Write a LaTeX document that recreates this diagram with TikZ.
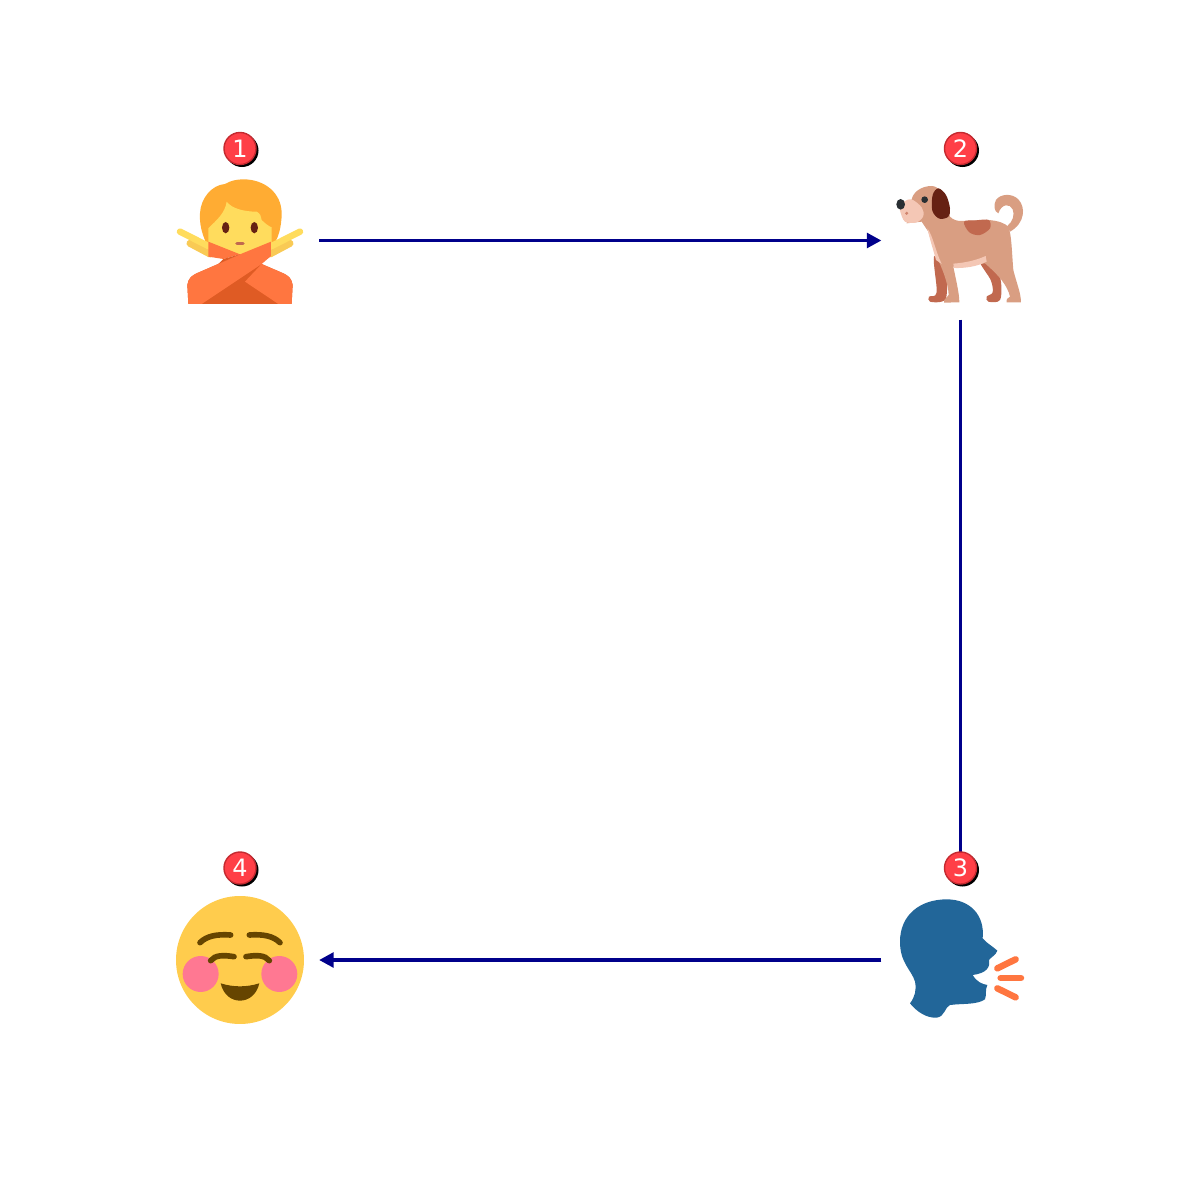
\documentclass[tikz,border=0pt]{standalone}
\usepackage{fontspec}
\usepackage{xcolor}
\usepackage{tikz}
\usetikzlibrary{arrows.meta}
\setmainfont{DejaVu Sans}
\definecolor{clink}{HTML}{00008B}
\definecolor{cbadge}{HTML}{FF3F47}
\definecolor{cbadgeedge}{HTML}{C42A30}
\definecolor{chair}{HTML}{FFAC33}
\definecolor{cskin}{HTML}{FFDC5D}
\definecolor{cskinb}{HTML}{F9CA55}
\definecolor{cshirt}{HTML}{FF7640}
\definecolor{cshirtb}{HTML}{DF5B24}
\definecolor{cbrown}{HTML}{662113}
\definecolor{cbrick}{HTML}{C1694F}
\definecolor{cdog}{HTML}{D99E82}
\definecolor{cpale}{HTML}{F4C7B5}
\definecolor{cdark}{HTML}{292F33}
\definecolor{chead}{HTML}{226699}
\definecolor{cface}{HTML}{FFCC4D}
\definecolor{ceye}{HTML}{664500}
\definecolor{ccheek}{HTML}{FF7892}
\tikzset{
  icon/.style={minimum size=1.28cm,inner sep=0pt,outer sep=0.15cm},
  link/.style={clink,line width=1.1pt,-{Triangle[length=1.45mm,width=1.45mm]}},
  badge/.style={circle,fill=cbadge,draw=cbadgeedge,line width=0.4pt,minimum size=0.32cm,inner sep=0pt,text=white,font=\fontsize{6.8}{7}\selectfont},
  bshadow/.style={circle,fill=black,minimum size=0.33cm,inner sep=0pt},
  zoomed/.style={scale=0.3333},
  blob/.style={smooth cycle,tension=0.55}
}
\begin{document}
\begin{tikzpicture}[x=0.01cm,y=-0.01cm]
\useasboundingbox (0,0) rectangle (1200,1200);

% ===== icons =====
\node[icon] (nope) at (240,240.5) {};
\node[icon] (dog) at (960.5,240.5) {};
\node[icon] (talk) at (960.5,960) {};
\node[icon] (smile) at (240,960) {};

% ===== connectors, under the badges =====
\draw[link] (nope) -- (dog);
\draw[link] (dog) -- (talk);
\draw[link] (talk) -- (smile);

% ===== person with crossed arms =====
\begin{scope}[shift={(160,120)},zoomed]
  \fill[chair] (140,372) .. controls (125,340) and (118,310) .. (120,280) .. controls (122,235) and (155,195) .. (195,192) .. controls (212,182) and (230,178) .. (250,178) .. controls (315,178) and (365,220) .. (365,280) .. controls (365,320) and (355,360) .. (335,380) -- (240,400) -- cycle;
  \draw[cskinb,line width=2pt,line cap=round] (90,370) -- (150,402);
  \draw[cskinb,line width=2pt,line cap=round] (390,370) -- (330,402);
  \draw[cskin,line width=1.85pt,line cap=round] (60,335) -- (145,378);
  \draw[cskin,line width=1.85pt,line cap=round] (420,335) -- (335,378);
  \fill[cskin] (145,325) .. controls (170,300) and (195,280) .. (200,245) .. controls (215,265) and (250,275) .. (290,275) .. controls (300,280) and (305,290) .. (305,300) .. controls (315,310) and (325,318) .. (335,322) -- (335,370) -- (240,405) -- (145,370) -- cycle;
  \fill[cbrown] (197,323) circle[x radius=11,y radius=17];
  \fill[cbrown] (283,323) circle[x radius=11,y radius=17];
  \draw[cbrick,line width=1pt,line cap=round] (231,370) -- (249,370);
  \fill[cshirtb] (85,552) -- (82,495) .. controls (85,475) and (95,467) .. (110,460) -- (175,432) -- (240,403) -- (305,432) -- (370,460) .. controls (385,467) and (395,475) .. (398,495) -- (395,552) -- cycle;
  \fill[cshirt] (333,365) -- (333,408) -- (305,432) -- (125,552) -- (85,552) -- (82,495) .. controls (85,475) and (95,467) .. (110,460) -- (240,403) -- cycle;
  \fill[cshirt] (305,432) -- (370,460) .. controls (385,467) and (395,475) .. (398,495) -- (395,552) -- (355,552) -- (255,485) -- cycle;
  \fill[cshirt] (145,365) -- (240,403) -- (190,417) -- (145,410) -- cycle;
  \fill[cshirtb] (175,432) -- (190,417) -- (240,403) -- cycle;
\end{scope}

% ===== dog =====
\begin{scope}[shift={(870,120)},zoomed]
  \fill[cbrick] plot[blob] coordinates {(192,410) (228,420) (230,525) (215,545) (180,545) (177,530) (200,517)};
  \fill[cbrick] plot[blob] coordinates {(330,425) (368,420) (392,480) (390,540) (355,545) (350,530) (368,517) (362,480)};
  \fill[cdog] (412,318) .. controls (428,305) and (435,285) .. (428,268) .. controls (420,250) and (395,250) .. (385,280) .. controls (372,275) and (370,255) .. (378,240) .. controls (390,222) and (425,218) .. (445,238) .. controls (468,262) and (465,310) .. (420,335) -- cycle;
  \fill[cdog] (125,238) .. controls (130,215) and (155,198) .. (185,198) .. controls (205,198) and (225,220) .. (240,290) .. controls (250,300) and (260,303) .. (275,303) -- (355,300) .. controls (385,302) and (405,310) .. (415,320) .. controls (425,345) and (425,390) .. (430,450) .. controls (440,490) and (453,520) .. (453,547) -- (410,547) .. controls (408,535) and (415,535) .. (420,530) .. controls (412,495) and (385,465) .. (345,430) -- (250,440) .. controls (258,480) and (268,520) .. (268,547) -- (222,548) .. controls (220,535) and (232,535) .. (236,525) .. controls (235,490) and (215,440) .. (195,400) -- (175,335) -- (155,305) -- (110,310) -- cycle;
  \fill[cpale] plot[blob] coordinates {(125,238) (155,262) (160,288) (140,307) (105,305) (90,272) (90,252) (105,243)};
  \fill[cpale] (172,325) .. controls (190,350) and (195,390) .. (215,432) -- (198,420) .. controls (190,390) and (180,360) .. (172,325) -- cycle;
  \fill[cpale] (250,431) .. controls (290,428) and (320,420) .. (347,408) -- (350,425) .. controls (320,440) and (285,445) .. (252,444) -- cycle;
  \fill[cbrick] plot[blob] coordinates {(282,305) (318,301) (356,300) (360,325) (330,345) (298,337)};
  \fill[cbrown] plot[blob] coordinates {(205,205) (228,225) (240,265) (235,290) (208,296) (187,272) (188,225)};
  \fill[cdark] (164,239) circle[radius=10];
  \fill[cdark] (92,253) circle[x radius=13,y radius=16];
  \fill[cbrick!70!cpale] (110,280) circle[radius=5];
\end{scope}

% ===== speaking head =====
\begin{scope}[shift={(870,840)},zoomed]
  \fill[chead] (120,490) .. controls (135,470) and (140,450) .. (135,425) .. controls (125,390) and (90,370) .. (90,305) .. controls (90,225) and (150,178) .. (230,178) .. controls (300,178) and (345,225) .. (338,295) .. controls (350,310) and (370,320) .. (382,332) .. controls (378,345) and (365,350) .. (357,360) .. controls (362,380) and (350,400) .. (308,405) .. controls (320,425) and (335,432) .. (352,435) .. controls (345,450) and (350,465) .. (345,478) .. controls (320,495) and (280,490) .. (240,495) .. controls (225,500) and (225,530) .. (200,533) .. controls (170,535) and (140,515) .. (120,490) -- cycle;
  \draw[cshirt,line width=1.85pt,line cap=round] (382,385) -- (437,358);
  \draw[cshirt,line width=1.85pt,line cap=round] (392,414) -- (453,414);
  \draw[cshirt,line width=1.85pt,line cap=round] (382,445) -- (437,472);
\end{scope}

% ===== smiling face =====
\begin{scope}[shift={(160,840)},zoomed]
  \fill[cface] (240,360) circle[radius=192];
  \fill[ccheek] (122,402) circle[radius=54];
  \fill[ccheek] (358,402) circle[radius=54];
  \draw[ceye,line width=1.6pt,line cap=round] (120,308) .. controls (140,288) and (170,282) .. (212,285);
  \draw[ceye,line width=1.6pt,line cap=round] (360,308) .. controls (340,288) and (310,282) .. (268,285);
  \draw[ceye,line width=1.6pt,line cap=round] (152,362) .. controls (165,345) and (190,345) .. (222,350);
  \draw[ceye,line width=1.6pt,line cap=round] (328,362) .. controls (315,345) and (290,345) .. (258,350);
  \fill[ceye] (182,430) .. controls (220,442) and (260,442) .. (298,430) .. controls (290,465) and (265,482) .. (240,482) .. controls (215,482) and (190,465) .. (182,430) -- cycle;
\end{scope}

% ===== numbered badges =====
\foreach \nm/\lab in {nope/1,dog/2,talk/3,smile/4}{
  \node[bshadow] (shade\lab) at ([shift={(2,-90)}]\nm.center) {};
  \node[badge] (badge\lab) at ([shift={(0,-92)}]\nm.center) {\lab};
}
\end{tikzpicture}
\end{document}
